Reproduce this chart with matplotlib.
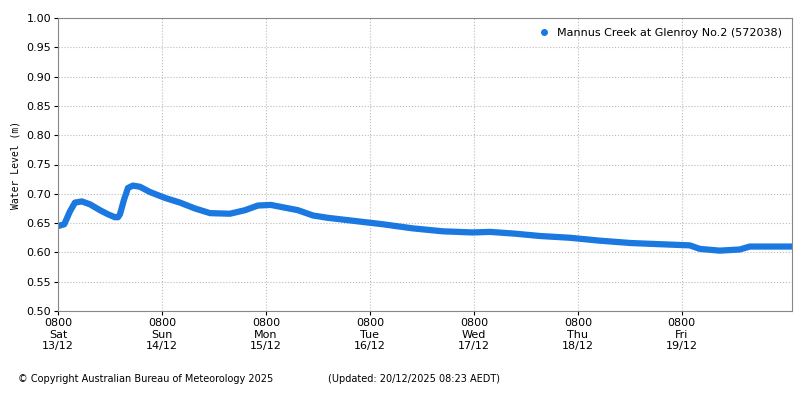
import matplotlib
matplotlib.use("Agg")
import matplotlib.pyplot as plt

# time in days since 13/12 08:00, water level (m)
days = [0.0, 0.06, 0.115, 0.163, 0.23, 0.308, 0.404, 0.481, 0.548, 0.577, 0.596, 0.635,
        0.673, 0.721, 0.788, 0.885, 1.029, 1.173, 1.317, 1.462, 1.654, 1.798, 1.923, 2.048,
        2.163, 2.308, 2.452, 2.596, 2.837, 3.125, 3.413, 3.700, 3.990, 4.154, 4.394, 4.635,
        4.923, 5.212, 5.510, 5.788, 6.077, 6.173, 6.365, 6.558, 6.654, 6.750, 7.058]
level = [0.645, 0.648, 0.670, 0.685, 0.687, 0.682, 0.672, 0.665, 0.660, 0.660, 0.665, 0.690,
         0.710, 0.714, 0.712, 0.703, 0.693, 0.685, 0.675, 0.667, 0.666, 0.672, 0.680, 0.681,
         0.677, 0.672, 0.663, 0.659, 0.654, 0.648, 0.641, 0.636, 0.634, 0.635, 0.632, 0.628,
         0.625, 0.620, 0.616, 0.614, 0.612, 0.606, 0.603, 0.605, 0.610, 0.610, 0.610]
tick_labels = ["0800\nSat\n13/12", "0800\nSun\n14/12", "0800\nMon\n15/12", "0800\nTue\n16/12",
               "0800\nWed\n17/12", "0800\nThu\n18/12", "0800\nFri\n19/12"]

blue = "#1a78e0"
fig = plt.figure(figsize=(8, 4), dpi=100)
ax = fig.add_axes([0.0725, 0.2225, 0.9175, 0.7325])
ax.plot(days, level, color=blue, lw=4.5, solid_capstyle="round", solid_joinstyle="round")
ax.plot([], [], "o", color=blue, ms=4, label="Mannus Creek at Glenroy No.2 (572038)")
ax.set_xlim(0, 7.06)
ax.set_ylim(0.5, 1.0)
ax.set_xticks(range(7))
ax.set_xticklabels(tick_labels, fontsize=8)
ax.set_yticks([0.5 + 0.05 * i for i in range(11)])
ax.set_yticklabels([f"{0.5 + 0.05 * i:.2f}" for i in range(11)], fontsize=8)
ax.grid(True, color="#bbbbbb", ls=":", lw=0.8)
ax.tick_params(length=3, pad=2)
ax.set_ylabel("Water Level (m)", fontsize=7, family="DejaVu Sans Mono")
ax.legend(loc="upper right", fontsize=8, frameon=False, handletextpad=0.2, markerscale=1)
for s in ax.spines.values():
    s.set_color("#888888")
fig.text(0.022, 0.045, "© Copyright Australian Bureau of Meteorology 2025", fontsize=7)
fig.text(0.41, 0.045, "(Updated: 20/12/2025 08:23 AEDT)", fontsize=7)
fig.savefig("out.png")
